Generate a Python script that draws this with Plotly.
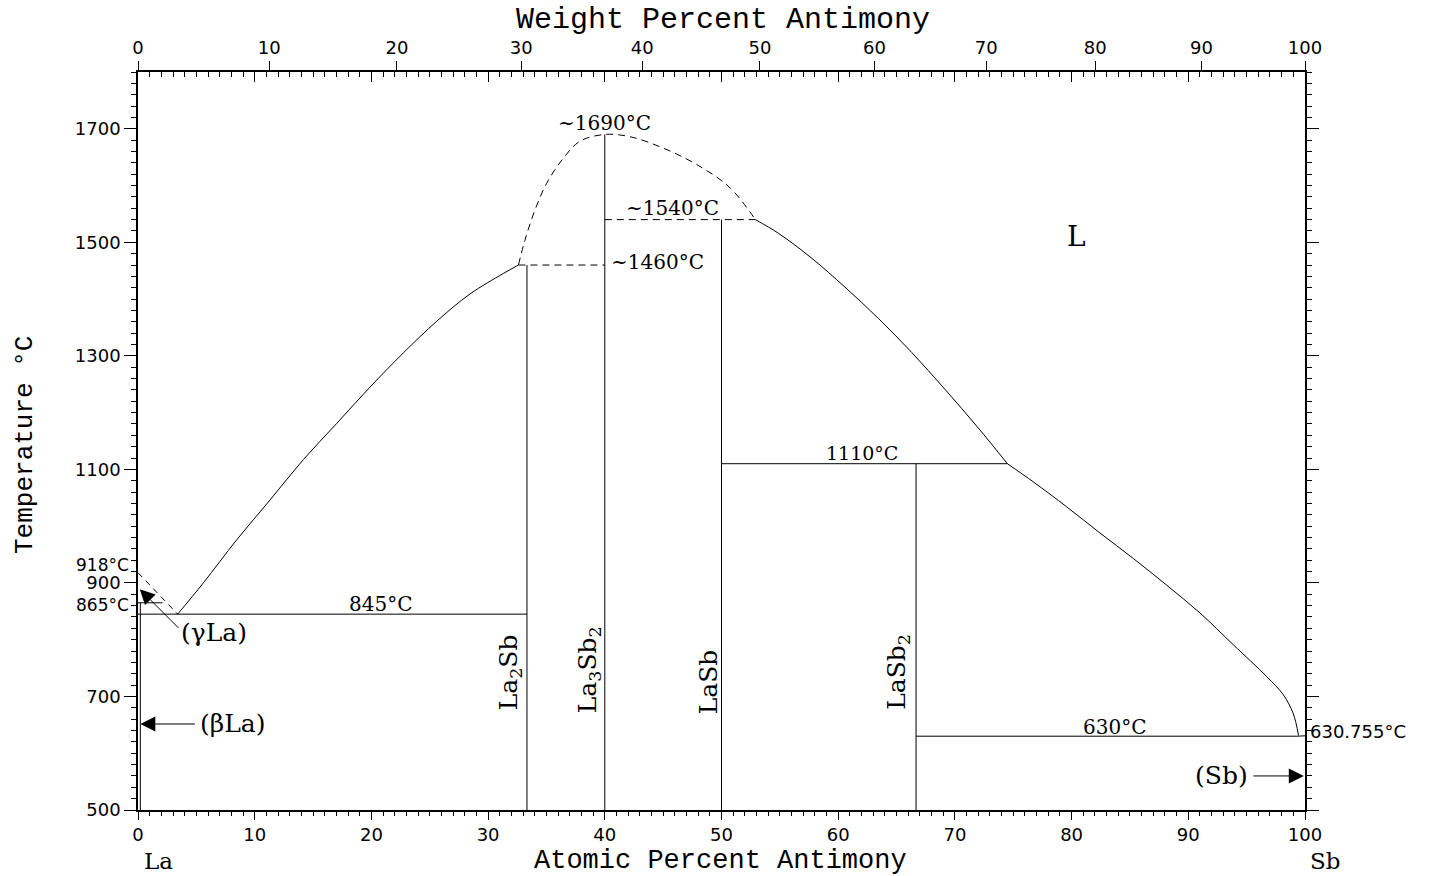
import plotly.graph_objects as go

# ---------------- data (atomic % Sb, temperature in °C) ----------------
liq_left_x = [3.4, 5.6, 8.46, 11.31, 14.16, 17.03, 19.88, 22.73, 25.6, 28.45, 31.3, 32.6]
liq_left_T = [845, 900, 976, 1046, 1117, 1181, 1245, 1305, 1361, 1409, 1445, 1460]

dome_x = [32.6, 33.16, 34.02, 35.02, 36.44, 37.87, 40.0, 42.16, 45.0, 47.87, 50.73, 52.9]
dome_T = [1460, 1504, 1557, 1604, 1648, 1678, 1690, 1686, 1666, 1637, 1596, 1540]

liq_right_x = [52.9, 54.87, 57.73, 60.58, 63.44, 66.3, 69.15, 72.0, 74.5]
liq_right_T = [1540, 1516, 1472, 1421, 1366, 1306, 1241, 1173, 1110]

liq_sb_x = [74.5, 76.72, 79.58, 82.43, 85.29, 88.15, 91.0, 93.86, 96.72, 98.14, 98.99, 99.45]
liq_sb_T = [1110, 1078, 1034, 988, 943, 896, 847, 791, 735, 703, 670, 631]

la_dashed_x = [0, 3.4]
la_dashed_T = [918, 845]

# solid straight segments: (x0, x1, T0, T1)
solid_segments = [
    (0, 33.33, 845, 845),        # eutectic 845
    (0, 2.1, 865, 865),          # gamma/beta La
    (0.2, 0.2, 500, 865),        # beta La solvus
    (33.33, 33.33, 500, 1460),   # La2Sb
    (40.0, 40.0, 500, 1690),     # La3Sb2
    (50.0, 50.0, 500, 1540),     # LaSb
    (50.0, 74.5, 1110, 1110),    # 1110
    (66.67, 66.67, 500, 1110),   # LaSb2
    (66.67, 99.45, 630, 630),    # 630 eutectic
    (99.45, 100, 630, 630.755),
]
dashed_segments = [
    (32.6, 40.0, 1460, 1460),
    (40.0, 52.9, 1540, 1540),
]

wt_labels = [0, 10, 20, 30, 40, 50, 60, 70, 80, 90, 100]
M_LA, M_SB = 138.905, 121.760


def wt_to_at(w):
    if w <= 0:
        return 0.0
    if w >= 100:
        return 100.0
    a = w / M_SB
    b = (100 - w) / M_LA
    return 100 * a / (a + b)


wt_pos = [wt_to_at(w) for w in wt_labels]

temp_ticks = [500, 700, 900, 1100, 1300, 1500, 1700]

LINE = dict(color="black", width=1)
SERIF = "DejaVu Serif"
SANS = "DejaVu Sans"
MONO = "Liberation Mono"

fig = go.Figure()


def add_line(x, y, dash=None, xaxis="x", spline=False):
    ln = dict(LINE)
    if dash:
        ln["dash"] = dash
    if spline:
        ln["shape"] = "spline"
        ln["smoothing"] = 1.0
    fig.add_trace(go.Scatter(x=x, y=y, mode="lines", line=ln, xaxis=xaxis,
                             yaxis="y", showlegend=False, hoverinfo="skip"))


add_line(liq_left_x, liq_left_T, spline=True)
add_line(dome_x, dome_T, dash="7px,5px", spline=True, xaxis="x2")
add_line(liq_right_x, liq_right_T, spline=True)
add_line(liq_sb_x, liq_sb_T, spline=True, xaxis="x3")
add_line(la_dashed_x, la_dashed_T, dash="6px,5px")
for x0, x1, t0, t1 in solid_segments:
    add_line([x0, x1], [t0, t1])
for x0, x1, t0, t1 in dashed_segments:
    add_line([x0, x1], [t0, t1], dash="7px,5px")

ann = []


def txt(x, y, s, size=18, font=SERIF, xanchor="center", angle=0, **kw):
    d = dict(x=x, y=y, text=s, showarrow=False, xref="x", yref="y",
             font=dict(family=font, size=size, color="black"),
             xanchor=xanchor, yanchor="middle", textangle=angle)
    d.update(kw)
    ann.append(d)


txt(40.0, 1711, "~1690°C", 20)
txt(45.84, 1561, "~1540°C", 20)
txt(40.4, 1465, "~1460°C", 20, xanchor="left")
txt(62.04, 1129, "1110°C", 19)
txt(20.8, 863, "845°C", 20)
txt(83.7, 646, "630°C", 20)
txt(80.46, 1510, "L", 28)
txt(6.55, 812, "(γLa)", 25)
txt(8.1, 651.5, "(βLa)", 25)
txt(92.85, 560, "(Sb)", 25)
txt(31.9, 743, "La<sub>2</sub>Sb", 25, angle=-90)
txt(38.6, 747, "La<sub>3</sub>Sb<sub>2</sub>", 25, angle=-90)
txt(48.9, 726, "LaSb", 25, angle=-90)
txt(65.1, 743, "LaSb<sub>2</sub>", 25, angle=-90)

# arrows
for tip, tail in [((0.15, 889), (3.6, 818)),
                  ((0.2, 651.5), (5.0, 651.5)),
                  ((99.9, 560), (95.45, 560))]:
    ann.append(dict(x=tip[0], y=tip[1], ax=tail[0], ay=tail[1], xref="x", yref="y",
                    axref="x", ayref="y", text="", showarrow=True, arrowhead=2,
                    arrowsize=3, arrowwidth=1, arrowcolor="black"))

# labels outside the plot
ann.append(dict(x=0, y=918, xref="paper", yref="y", text="918°C", showarrow=False,
                xanchor="right", yanchor="middle", xshift=-7, yshift=8,
                font=dict(family=SANS, size=17, color="black")))
ann.append(dict(x=0, y=865, xref="paper", yref="y", text="865°C", showarrow=False,
                xanchor="right", yanchor="middle", xshift=-7, yshift=-2,
                font=dict(family=SANS, size=17, color="black")))
ann.append(dict(x=1, y=630.755, xref="paper", yref="y", text="630.755°C", showarrow=False,
                xanchor="left", yanchor="middle", xshift=3, yshift=4,
                font=dict(family=SANS, size=18, color="black")))
ann.append(dict(x=0, y=0, xref="x", yref="paper", text="La", showarrow=False,
                xanchor="center", yanchor="middle", xshift=20, yshift=-51,
                font=dict(family=SERIF, size=23, color="black")))
ann.append(dict(x=100, y=0, xref="x", yref="paper", text="Sb", showarrow=False,
                xanchor="center", yanchor="middle", xshift=20, yshift=-51,
                font=dict(family=SERIF, size=23, color="black")))
ann.append(dict(x=0.501, y=1, xref="paper", yref="paper", text="Weight Percent Antimony",
                showarrow=False, xanchor="center", yanchor="middle", yshift=52,
                font=dict(family=MONO, size=30, color="black")))
ann.append(dict(x=0.499, y=0, xref="paper", yref="paper", text="Atomic Percent Antimony",
                showarrow=False, xanchor="center", yanchor="middle", yshift=-51,
                font=dict(family=MONO, size=27, color="black")))
ann.append(dict(x=0, y=0.4946, xref="paper", yref="paper", text="Temperature °C",
                showarrow=False, xanchor="center", yanchor="middle", xshift=-113,
                textangle=-90, font=dict(family=MONO, size=26, color="black")))

tickfont = dict(family=SANS, size=18, color="black")

fig.update_layout(
    width=1429, height=876,
    margin=dict(l=138, r=124, t=72, b=66),
    paper_bgcolor="white", plot_bgcolor="white",
    showlegend=False,
    annotations=ann,
    xaxis=dict(range=[0, 100], tickmode="linear", tick0=0, dtick=10,
               ticks="outside", ticklen=8, tickwidth=1, tickcolor="black",
               minor=dict(dtick=1, tick0=0, ticklen=4, ticks="outside", tickcolor="black"),
               showline=True, linecolor="black", linewidth=1.5, mirror=False,
               showgrid=False, zeroline=False, tickfont=tickfont, side="bottom"),
    xaxis2=dict(range=[0, 100], overlaying="x", side="top", anchor="y",
                tickmode="array", tickvals=wt_pos, ticktext=[str(w) for w in wt_labels],
                ticks="outside", ticklen=10, tickwidth=1, tickcolor="black",
                showline=False, showgrid=False, zeroline=False, tickfont=tickfont),
    xaxis3=dict(range=[0, 100], overlaying="x", side="top", anchor="y",
                tickmode="linear", tick0=0, dtick=10, ticks="inside", ticklen=10,
                tickcolor="black",
                minor=dict(dtick=1, tick0=0, ticklen=5, ticks="inside", tickcolor="black"),
                showticklabels=False, showline=True, linecolor="black", linewidth=1.5,
                showgrid=False, zeroline=False),
    yaxis=dict(range=[500, 1800], tickmode="array", tickvals=temp_ticks,
               ticks="outside", ticklen=12, tickwidth=1, tickcolor="black",
               minor=dict(dtick=20, tick0=500, ticklen=5, ticks="outside", tickcolor="black"),
               showline=True, linecolor="black", linewidth=1.5, mirror="ticks",
               showgrid=False, zeroline=False, tickfont=tickfont),
)

fig.write_html("out.html")
